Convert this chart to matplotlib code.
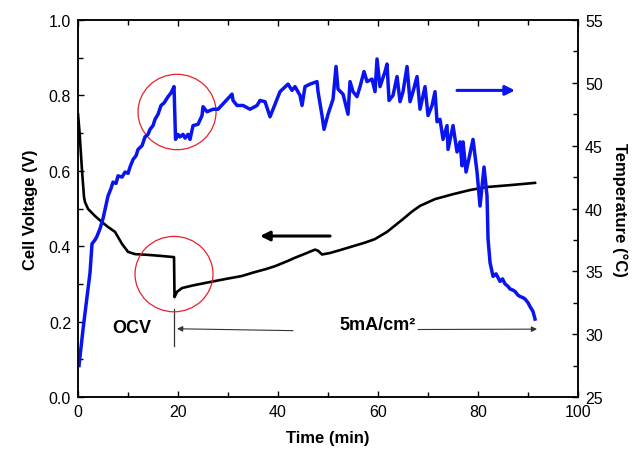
import matplotlib
matplotlib.use("Agg")
import matplotlib.pyplot as plt
from matplotlib.patches import Ellipse
from matplotlib.ticker import MultipleLocator, FormatStrFormatter

plt.rcParams['font.family'] = ['Liberation Sans', 'DejaVu Sans']

# Cell voltage (V) vs time (min)
time_v = [0.0, 0.3, 0.8, 1.2, 1.4, 2.0, 3.4, 4.8, 6.0, 7.4, 8.8, 10.0, 11.4,
          14.0, 16.8, 19.2, 19.3, 19.8, 20.8, 23.0, 26.4, 29.5, 32.8, 35.0,
          37.5, 39.4, 41.8, 43.5, 45.4, 47.4, 48.0, 48.8, 50.4, 52.5, 55.0,
          57.5, 59.4, 61.8, 63.4, 65.0, 66.8, 68.4, 71.4, 75.0, 78.4, 81.8,
          86.4, 91.4]
voltage = [0.750, 0.703, 0.600, 0.530, 0.517, 0.499, 0.480, 0.464, 0.451,
           0.438, 0.406, 0.385, 0.379, 0.377, 0.374, 0.371, 0.265, 0.279,
           0.289, 0.296, 0.305, 0.313, 0.321, 0.330, 0.339, 0.347, 0.360,
           0.370, 0.380, 0.391, 0.388, 0.378, 0.382, 0.390, 0.400, 0.410,
           0.419, 0.438, 0.455, 0.472, 0.492, 0.507, 0.525, 0.538, 0.549,
           0.557, 0.562, 0.568]

# Cell temperature (°C) vs time (min)
time_t = [0.2, 1.0, 2.4, 2.8, 3.4, 3.8, 4.4, 5.0, 6.0, 6.6, 7.0, 7.6, 8.0,
          8.8, 9.4, 10.0, 10.4, 11.0, 11.6, 12.0, 12.8, 13.4, 14.0, 14.4,
          15.0, 15.4, 16.0, 16.6, 17.2, 18.0, 18.6, 19.2, 19.5, 20.0, 20.4,
          21.0, 21.4, 22.0, 22.4, 23.0, 24.0, 24.8, 25.0, 25.8, 27.0, 28.0,
          29.4, 30.8, 31.0, 31.8, 33.0, 34.4, 35.8, 36.4, 37.4, 38.4, 39.0,
          40.4, 42.0, 42.8, 43.4, 44.4, 44.8, 45.4, 46.4, 47.8, 48.0, 48.8,
          49.2, 50.0, 51.0, 51.6, 52.0, 53.0, 54.0, 54.4, 55.0, 55.8, 56.4,
          57.2, 57.8, 58.8, 59.4, 59.8, 60.4, 61.4, 61.8, 62.2, 63.0, 63.8,
          64.4, 65.0, 65.8, 66.4, 67.0, 67.8, 68.4, 69.4, 70.0, 70.8, 71.4,
          71.8, 72.4, 73.0, 73.8, 74.0, 75.0, 75.8, 76.4, 76.8, 77.0, 77.6,
          79.0, 79.8, 80.4, 81.2, 81.8, 82.0, 82.4, 83.0, 83.6, 84.4, 84.9,
          85.4, 86.0, 86.4, 87.0, 87.4, 88.0, 88.4, 89.0, 89.4, 90.0, 90.4,
          91.0, 91.4]
temperature = [27.5, 30.4, 34.9, 37.2, 37.5, 37.8, 38.4, 39.2, 41.0, 41.6,
               42.1, 42.0, 42.6, 42.5, 42.9, 42.8, 43.3, 43.9, 44.2, 44.7,
               45.0, 45.7, 45.9, 46.3, 46.6, 47.1, 47.5, 48.2, 48.4, 48.9,
               49.2, 49.7, 45.5, 45.9, 45.7, 45.9, 45.6, 45.9, 45.5, 46.6,
               46.7, 47.4, 48.1, 47.7, 47.9, 47.9, 48.5, 49.1, 48.6, 48.2,
               48.2, 47.9, 48.2, 48.6, 48.5, 47.3, 47.9, 49.3, 49.9, 49.4,
               49.7, 49.0, 48.2, 49.7, 49.9, 50.1, 49.3, 47.4, 46.3, 47.5,
               48.7, 51.3, 49.5, 49.1, 47.5, 50.1, 49.3, 48.9, 49.7, 50.9,
               50.1, 50.3, 49.3, 51.9, 49.7, 50.9, 51.5, 48.6, 49.0, 50.5,
               48.5, 49.3, 51.3, 48.5, 49.3, 50.5, 47.9, 49.7, 47.4, 48.2,
               49.3, 46.9, 47.1, 45.5, 46.6, 44.7, 46.6, 44.5, 45.3, 43.4,
               45.3, 42.9, 45.5, 42.9, 40.2, 43.3, 41.0, 37.6, 35.7, 34.6,
               34.8, 34.2, 34.4, 34.0, 33.8, 33.6, 33.5, 33.4, 33.1, 33.0,
               32.9, 32.8, 32.5, 32.2, 31.8, 31.2]

fig = plt.figure(figsize=(6.38, 4.60), dpi=100)
ax1 = fig.add_axes([0.1223, 0.1348, 0.7837, 0.8195])
ax2 = ax1.twinx()

ax1.plot(time_v, voltage, color='black', lw=1.9, solid_joinstyle='round')
ax2.plot(time_t, temperature, color='#0a14f0', lw=2.5, solid_joinstyle='round')

ax1.set_xlim(0, 100)
ax1.set_ylim(0.0, 1.0)
ax2.set_ylim(25, 55)

ax1.xaxis.set_major_locator(MultipleLocator(20))
ax1.xaxis.set_minor_locator(MultipleLocator(10))
ax1.yaxis.set_major_locator(MultipleLocator(0.2))
ax1.yaxis.set_minor_locator(MultipleLocator(0.1))
ax2.yaxis.set_major_locator(MultipleLocator(5))
ax2.yaxis.set_minor_locator(MultipleLocator(2.5))
ax1.yaxis.set_major_formatter(FormatStrFormatter('%.1f'))

ax1.tick_params(which='both', direction='in', top=True, right=False,
                width=1.0, labelsize=11.5, pad=5)
ax1.tick_params(which='major', length=4.5)
ax1.tick_params(which='minor', length=3.5)
ax2.tick_params(which='both', direction='in', width=1.0, labelsize=11.5, pad=5)
ax2.tick_params(which='major', length=4.5)
ax2.tick_params(which='minor', length=3.5)
for ax in (ax1, ax2):
    for s in ax.spines.values():
        s.set_linewidth(1.1)

ax1.set_xlabel('Time (min)', fontsize=12, fontweight='bold', labelpad=8)
ax1.set_ylabel('Cell Voltage (V)', fontsize=12, fontweight='bold', labelpad=8)
ax2.set_ylabel('Temperature (°C)', fontsize=12, fontweight='bold',
               rotation=270, labelpad=18)

# Red circles highlighting the switch from OCV to load
for cx, cy in [(19.8, 0.756), (19.2, 0.326)]:
    ax1.add_patch(Ellipse((cx, cy), 15.6, 0.2, fill=False,
                          edgecolor='#e8202a', lw=0.9, zorder=5))

# Series direction arrows
ax1.annotate('', xy=(36.4, 0.427), xytext=(50.4, 0.427),
             arrowprops=dict(arrowstyle='-|>', color='black', lw=2.2,
                             mutation_scale=14, shrinkA=0, shrinkB=0))
ax2.annotate('', xy=(87.4, 49.4), xytext=(75.8, 49.4),
             arrowprops=dict(arrowstyle='-|>', color='#0a14f0', lw=2.2,
                             mutation_scale=14, shrinkA=0, shrinkB=0))

# Operating regime annotation
ax1.plot([19.2, 19.2], [0.135, 0.233], color='#333333', lw=0.9)
ax1.text(10.8, 0.185, 'OCV', fontsize=13, fontweight='bold',
         ha='center', va='center')
ax1.annotate('', xy=(19.8, 0.181), xytext=(43.0, 0.176),
             arrowprops=dict(arrowstyle='-|>', color='#333333', lw=0.8,
                             mutation_scale=8, shrinkA=0, shrinkB=0))
ax1.text(60.0, 0.193, '5mA/cm²', fontsize=13, fontweight='bold',
         ha='center', va='center')
ax1.annotate('', xy=(91.8, 0.180), xytext=(68.0, 0.179),
             arrowprops=dict(arrowstyle='-|>', color='#333333', lw=0.8,
                             mutation_scale=8, shrinkA=0, shrinkB=0))

fig.savefig('out.png', dpi=100)
